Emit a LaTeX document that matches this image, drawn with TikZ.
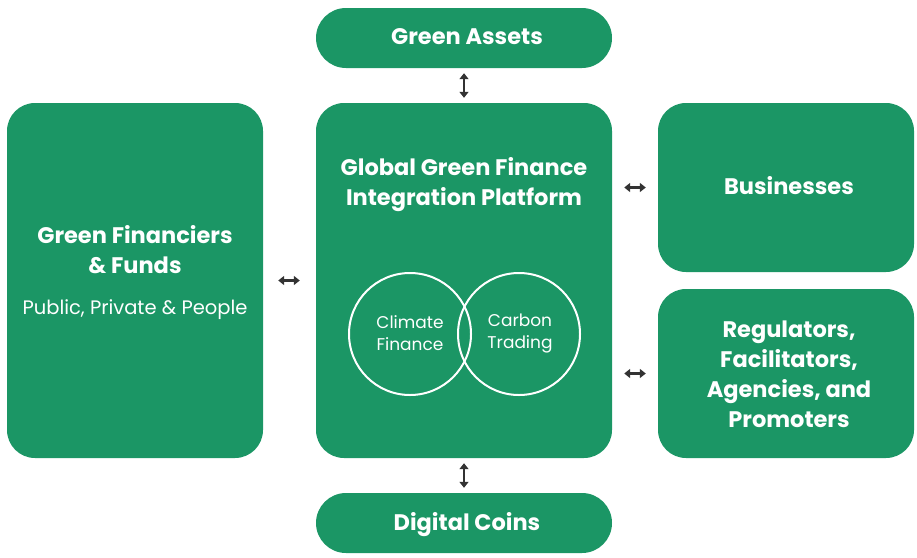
\documentclass[tikz,border=0pt]{standalone}
\usepackage{fontspec}
\setmainfont{Poppins}
\usetikzlibrary{arrows.meta}
\definecolor{gfgreen}{RGB}{27,150,101}
\definecolor{arrowgray}{RGB}{51,51,51}
\tikzset{
  box/.style={fill=gfgreen, draw=none, rounded corners=28pt, inner sep=0pt},
  pill/.style={fill=gfgreen, draw=none, rounded corners=30pt, inner sep=0pt, minimum width=296pt, minimum height=60pt},
  title/.style={text=white, font=\fontsize{22.5}{30}\selectfont\bfseries, align=center, inner sep=0pt},
  sub/.style={text=white, font=\fontsize{19.5}{22}\selectfont, align=center, inner sep=0pt},
  csub/.style={text=white, font=\fontsize{17}{22}\selectfont, align=center, inner sep=0pt},
  ring/.style={draw=white, line width=2pt, circle, minimum size=122pt, inner sep=0pt},
  link/.style={arrowgray, line width=2.6pt, {Triangle[length=6pt,width=9pt]}-{Triangle[length=6pt,width=9pt]}}
}
\begin{document}
\begin{tikzpicture}[x=1pt,y=-1pt]
\useasboundingbox (0,0) rectangle (917,557);
% boxes
\node[pill] (assets) at (464,38) {};
\node[pill] (coins) at (464,523) {};
\node[box, minimum width=296pt, minimum height=355pt] (center) at (464,280.5) {};
\node[box, minimum width=256pt, minimum height=355pt] (left) at (135,280.5) {};
\node[box, minimum width=256pt, minimum height=169pt] (bus) at (786,187.5) {};
\node[box, minimum width=256pt, minimum height=169pt] (reg) at (786,373.5) {};
% texts
\node[title] (tassets) at (467,37) {Green Assets};
\node[title] (tcoins) at (467,525) {Digital Coins};
\node[title] (tcenter) at (464,185) {Global Green Finance\\Integration Platform};
\node[title] (tleft) at (135,250) {Green Financiers\\\& Funds};
\node[sub] (tleftsub) at (135,310) {Public, Private \& People};
\node[title] (tbus) at (789,186) {Businesses};
\node[title] (treg) at (789,374) {Regulators,\\Facilitators,\\Agencies, and\\Promoters};
% circles
\node[ring] (c1) at (410,334) {};
\node[ring] (c2) at (519,334) {};
\node[csub] (tc1) at (410,333) {Climate\\Finance};
\node[csub] (tc2) at (520,333) {Carbon\\Trading};
% arrows
\draw[link, shorten <=5pt, shorten >=5pt] (assets.south) -- (center.north);
\draw[link, shorten <=5pt, shorten >=5pt] (center.south) -- (coins.north);
\draw[link, shorten <=15pt, shorten >=16pt] (left.east) -- (left.east -| center.west);
\draw[link, shorten <=12pt, shorten >=12pt] (bus.west -| center.east) -- (bus.west);
\draw[link, shorten <=12pt, shorten >=12pt] (reg.west -| center.east) -- (reg.west);
\end{tikzpicture}
\end{document}
